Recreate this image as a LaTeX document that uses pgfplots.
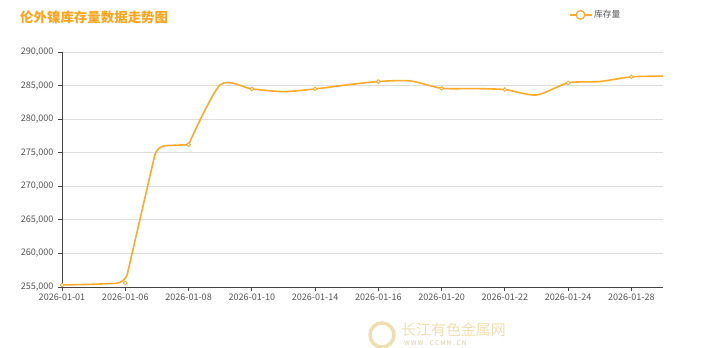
\documentclass[border=0pt]{standalone}
\usepackage{pgfplots}
\pgfplotsset{compat=1.18}
\usepackage{fontspec}
\setmainfont{Noto Sans CJK SC}
\definecolor{lineor}{HTML}{FFAA2B}
\definecolor{titleor}{HTML}{FFA41F}
\definecolor{ticktxt}{HTML}{555555}
\definecolor{gridc}{HTML}{DDDDDD}
\definecolor{wm}{HTML}{EFDFB0}
\begin{document}
\begin{tikzpicture}
\useasboundingbox (0,0) rectangle (715bp,348bp);
\node[anchor=west, font=\fontsize{13.5}{15}\selectfont\bfseries, text=titleor, inner sep=0pt] at (20bp,331bp) {伦外镍库存量数据走势图};
\node[anchor=west, font=\fontsize{15}{17}\selectfont, text=wm, inner sep=0pt] at (401bp,18bp) {长江有色金属网};
\node[anchor=west, font=\fontsize{6.5}{7}\selectfont, text=wm!80!gray, inner sep=0pt] at (404bp,4.5bp) {W\,W\,W\,.\;\;C\,C\,M\,N\;.\;C\,N};
\draw[wm, line width=3.5bp] (382bp,13bp) circle (12bp);
\begin{axis}[
  at={(62bp,61bp)}, anchor=south west,
  scale only axis, width=601bp, height=235bp,
  xmin=0, xmax=19, ymin=255000, ymax=290000,
  xtick={0,2,...,18},
  xticklabels={2026-01-01,2026-01-06,2026-01-08,2026-01-10,2026-01-14,2026-01-16,2026-01-20,2026-01-22,2026-01-24,2026-01-28},
  ytick={255000,260000,265000,270000,275000,280000,285000,290000},
  yticklabels={{255,000},{260,000},{265,000},{270,000},{275,000},{280,000},{285,000},{290,000}},
  scaled y ticks=false,
  tick label style={font=\fontsize{9.1}{10}\selectfont, text=ticktxt},
  axis x line*=bottom, axis y line*=left,
  axis line style={draw=ticktxt!80!black, line width=0.9bp, -},
  tick align=outside, major tick length=4bp,
  tick style={draw=ticktxt!80!black, line width=0.8bp},
  ymajorgrids, grid style={draw=gridc, line width=0.8bp},
  xticklabel style={yshift=1bp},
  yticklabel style={xshift=-1bp},
  legend style={at={(0.843,1.158)}, anchor=west, draw=none, fill=none, font=\fontsize{8.8}{10}\selectfont, text=ticktxt, inner sep=0pt},
  legend image code/.code={
    \draw[lineor, line width=1.3bp] (0bp,0bp) -- (22bp,0bp);
    \draw[lineor, fill=white, line width=1.3bp] (11bp,0bp) circle (4.3bp);
  },
  clip=false,
]
\addplot[lineor, line width=1.6bp, sharp plot, line join=round, rounded corners=9bp,
  mark=*, mark repeat=2, mark size=1.9bp,
  mark options={draw=lineor, fill=white, line width=0.8bp, sharp corners}, forget plot]
coordinates {
(0,255300) (1,255400) (2,255600) (3,276000) (4,276200)
};
\addplot[lineor, line width=1.6bp, smooth, tension=0.45,
  mark=*, mark repeat=2, mark size=1.9bp,
  mark options={draw=lineor, fill=white, line width=0.8bp}]
coordinates {
(4,276200) (5,285100)
(6,284500) (7,284100) (8,284500) (9,285100) (10,285600) (11,285700)
(12,284600) (13,284550) (14,284400) (15,283600) (16,285400) (17,285600)
(18,286300) (19,286400)
};
\addlegendentry{库存量}
\end{axis}
\end{tikzpicture}
\end{document}
